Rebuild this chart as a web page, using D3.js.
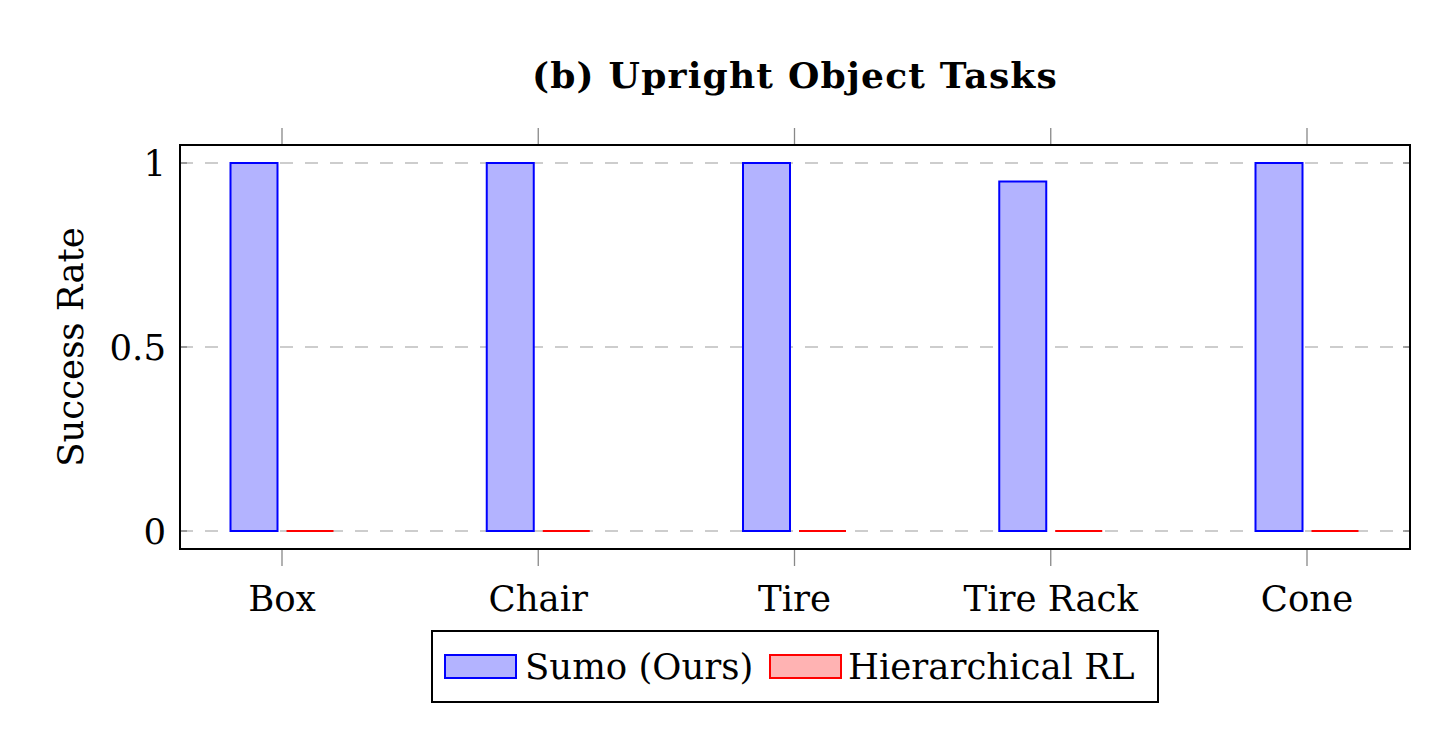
<!DOCTYPE html>
<html><head><meta charset="utf-8">
<script src="https://cdn.jsdelivr.net/npm/d3@7"></script>
<style>body{margin:0;background:#fff;} svg{display:block;} text{font-family:"DejaVu Serif",serif;fill:#000;}</style>
</head><body>
<svg id="c" width="1453" height="744"></svg>
<script>
const categories = ["Box","Chair","Tire","Tire Rack","Cone"];
const seriesNames = ["Sumo (Ours)","Hierarchical RL"];
const sumo = [1.0, 1.0, 1.0, 0.95, 1.0];
const hrl = [0, 0, 0, 0, 0];
const yTicks = [0, 0.5, 1];
const yTickLabels = ["0","0.5","1"];

const svg = d3.select("#c");
const L = 180, R = 1410, T = 145, B = 549;
const x = d3.scalePoint().domain(categories).range([282, 1307]);
const y = d3.scaleLinear().domain([0,1]).range([531, 163]);
const barW = 47, gap = 9;
const FS = 35.5;

function barPath(x0, w, v){
  const p = d3.path();
  p.moveTo(x0, y(0)); p.lineTo(x0, y(v)); p.lineTo(x0+w, y(v)); p.lineTo(x0+w, y(0)); p.closePath();
  return p.toString();
}

svg.append("g").selectAll("line").data(yTicks).join("line")
  .attr("x1", L).attr("x2", R).attr("y1", d=>y(d)).attr("y2", d=>y(d))
  .attr("stroke", "#bdbdbd").attr("stroke-width", 1.5).attr("stroke-dasharray", "13,12");
const yt = svg.append("g");
yt.selectAll("line.l").data(yTicks).join("line").attr("class","l")
  .attr("x1", L).attr("x2", L+7).attr("y1", d=>y(d)).attr("y2", d=>y(d)).attr("stroke","#888").attr("stroke-width",1.5);
yt.selectAll("line.r").data(yTicks).join("line").attr("class","r")
  .attr("x1", R-7).attr("x2", R).attr("y1", d=>y(d)).attr("y2", d=>y(d)).attr("stroke","#888").attr("stroke-width",1.5);
yt.selectAll("text").data(yTicks).join("text")
  .attr("x", 166).attr("y", d=>y(d)).attr("dy","0.36em").attr("text-anchor","end")
  .attr("font-size", FS).text((d,i)=>yTickLabels[i]);

const xt = svg.append("g");
xt.selectAll("line.t").data(categories).join("line").attr("class","t")
  .attr("x1", d=>x(d)).attr("x2", d=>x(d)).attr("y1", 128).attr("y2", T).attr("stroke","#888").attr("stroke-width",1.3);
xt.selectAll("line.b").data(categories).join("line").attr("class","b")
  .attr("x1", d=>x(d)).attr("x2", d=>x(d)).attr("y1", B).attr("y2", 566).attr("stroke","#888").attr("stroke-width",1.3);
xt.selectAll("text").data(categories).join("text")
  .attr("x", d=>x(d)).attr("y", 611).attr("text-anchor","middle").attr("font-size", FS).text(d=>d);

svg.append("g").selectAll("path").data(categories).join("path")
  .attr("d", (d,i)=>barPath(x(d)-gap/2-barW, barW, sumo[i]))
  .attr("fill","#b3b3ff").attr("stroke","#0000ff").attr("stroke-width",2);
svg.append("g").selectAll("path").data(categories).join("path")
  .attr("d", (d,i)=>barPath(x(d)+gap/2, barW, hrl[i]))
  .attr("fill","#ffb3b3").attr("stroke","#ff0000").attr("stroke-width",2);

svg.append("rect").attr("x",L).attr("y",T).attr("width",R-L).attr("height",B-T)
  .attr("fill","none").attr("stroke","#000").attr("stroke-width",2);

svg.append("text").attr("x",795).attr("y",88).attr("text-anchor","middle")
  .attr("font-size",36).attr("letter-spacing",1.2).attr("font-weight","bold").text("(b) Upright Object Tasks");
svg.append("text").attr("transform","translate(83,347) rotate(-90)").attr("text-anchor","middle")
  .attr("font-size",FS).text("Success Rate");

const lg = svg.append("g");
lg.append("rect").attr("x",432).attr("y",631).attr("width",726).attr("height",71)
  .attr("fill","#fff").attr("stroke","#000").attr("stroke-width",2);
const legX = [445, 770], legTX = [525, 848];
const fills = ["#b3b3ff","#ffb3b3"], strokes = ["#0000ff","#ff0000"];
seriesNames.forEach((n,i)=>{
  lg.append("rect").attr("x",legX[i]).attr("y",655).attr("width",71).attr("height",23)
    .attr("fill",fills[i]).attr("stroke",strokes[i]).attr("stroke-width",2);
  lg.append("text").attr("x",legTX[i]).attr("y",679).attr("font-size",FS).text(n);
});
</script>
</body></html>
